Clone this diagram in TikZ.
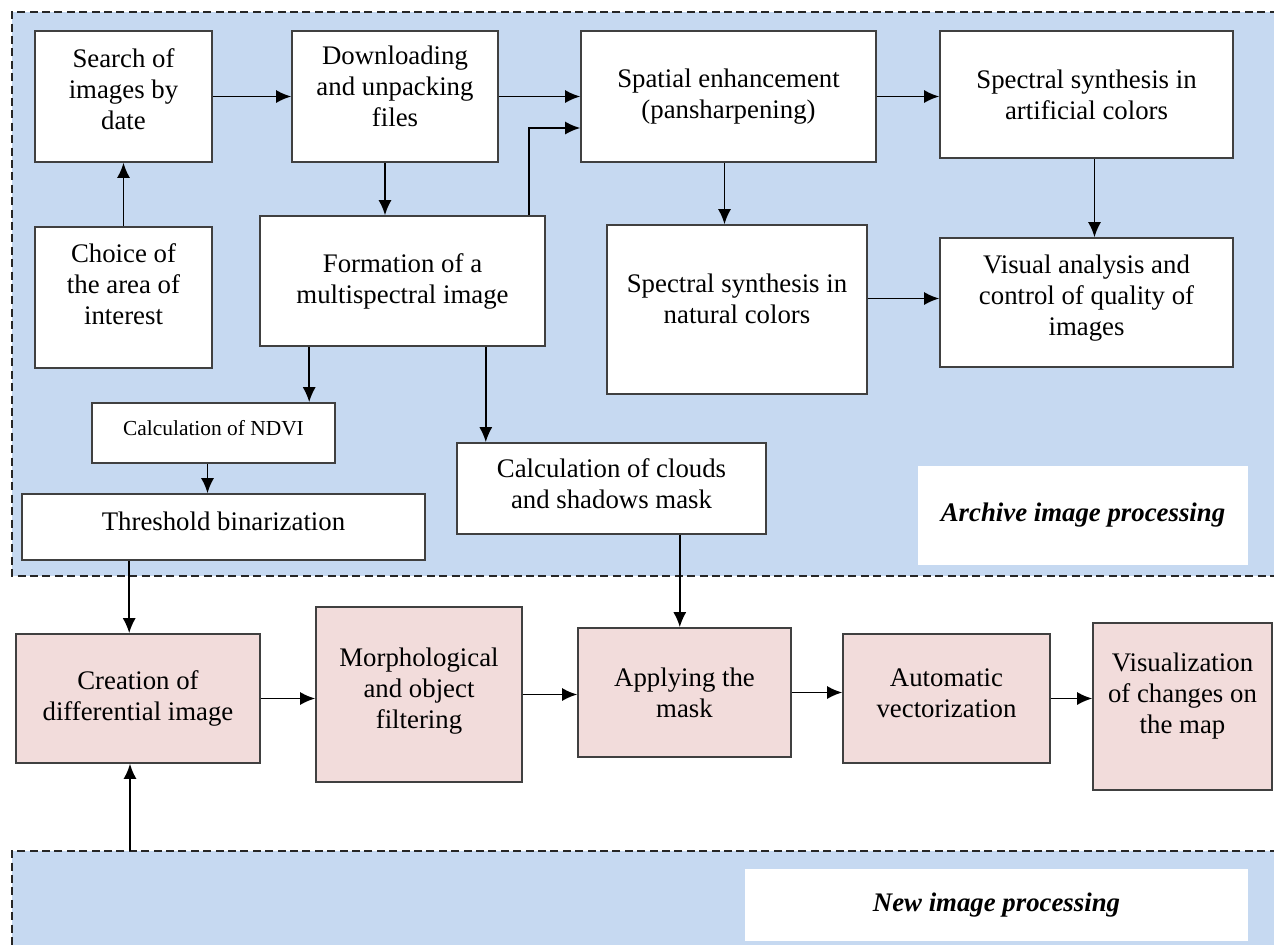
\documentclass[tikz,border=0pt]{standalone}
\usepackage{fontspec}
\setmainfont{Liberation Serif}
\usepackage{tikz}
\usetikzlibrary{arrows.meta}
\definecolor{bluefill}{RGB}{198,217,241}
\definecolor{pinkfill}{RGB}{242,220,219}
\definecolor{boxline}{RGB}{64,64,64}

\begin{document}
\begin{tikzpicture}[x=0.5pt,y=-0.5pt,
    box/.style={draw=boxline,line width=0.8pt,fill=white,align=center,inner sep=2pt,
      font=\fontsize{13.4}{15.5}\selectfont},
    stage/.style={box,fill=pinkfill},
    caption/.style={fill=white,inner sep=0pt,align=center,font=\fontsize{13.4}{15.5}\selectfont\bfseries\itshape},
    region/.style={draw=black!85,line width=0.9pt,dash pattern=on 4pt off 2.2pt},
    arr/.style={line width=0.9pt,-{Latex[length=7.5pt,width=6.5pt]}}]
  \clip (0,0) rectangle (1274,944);
  \fill[bluefill] (12,12) rectangle (1290,576);
  \draw[region] (1290,12) -- (12,12) -- (12,576) -- (1290,576);
  \fill[bluefill] (12,851) rectangle (1290,960);
  \draw[region] (1290,851) -- (12,851) -- (12,960);
  \coordinate (newtop) at (130,851);

  \node[box,minimum width=88.5pt,minimum height=65.5pt] (search) at (123.5,96.5) {Search of\\images by\\date\\[-8.5pt]};
  \node[box,minimum width=103pt,minimum height=65.5pt] (download) at (395,96.5) {Downloading\\and unpacking\\files\\[-5.5pt]};
  \node[box,minimum width=147.5pt,minimum height=65.5pt] (spatial) at (728.5,96.5) {Spatial enhancement\\(pansharpening)};
  \node[box,minimum width=146.5pt,minimum height=63.5pt] (artificial) at (1086.5,94.5) {Spectral synthesis in\\artificial colors};
  \node[box,minimum width=88.5pt,minimum height=70.5pt] (choice) at (123.5,297.5) {Choice of\\the area of\\interest\\[-2.5pt]};
  \node[box,minimum width=142.5pt,minimum height=65pt] (formation) at (402.5,281) {Formation of a\\multispectral image};
  \node[box,minimum width=130pt,minimum height=84.5pt] (natural) at (737,309.5) {Spectral synthesis in\\natural colors\\[-4.5pt]};
  \node[box,minimum width=146.5pt,minimum height=64.5pt] (visual) at (1086.5,302.5) {Visual analysis and\\control of quality of\\images\\[-8.5pt]};
  \node[box,minimum width=121.5pt,minimum height=30pt,font=\fontsize{10.7}{12.5}\selectfont] (ndvi) at (213.5,433) {Calculation of NDVI\\[-7.5pt]};
  \node[box,minimum width=201.5pt,minimum height=33pt] (threshold) at (223.5,527) {Threshold binarization\\[-9.5pt]};
  \node[box,minimum width=154.5pt,minimum height=45.5pt] (clouds) at (611.5,488.5) {Calculation of clouds\\and shadows mask\\[-10.5pt]};
  \node[caption,minimum width=165pt,minimum height=49.5pt] (archive) at (1083,515.5) {Archive image processing};

  \node[stage,minimum width=122pt,minimum height=64.5pt] (creation) at (138,698.5) {Creation of\\differential image};
  \node[stage,minimum width=103pt,minimum height=87.5pt] (morph) at (419,694.5) {Morphological\\and object\\filtering\\[-9.5pt]};
  \node[stage,minimum width=106.5pt,minimum height=64.5pt] (applying) at (684.5,692.5) {Applying the\\mask};
  \node[stage,minimum width=103.5pt,minimum height=64.5pt] (automatic) at (946.5,698.5) {Automatic\\vectorization\\[-10.5pt]};
  \node[stage,minimum width=89.5pt,minimum height=83.5pt] (visualization) at (1182.5,706.5) {Visualization\\of changes on\\the map\\[-2.5pt]};
  \node[caption,minimum width=251.5pt,minimum height=36pt] (newlabel) at (996.5,905) {New image processing\\[-12.5pt]};

  \draw[arr] (search.east) -- (search.east -| download.west);
  \draw[arr] (choice.north) -- (search.south);
  \draw[arr] (download.east) -- (download.east -| spatial.west);
  \draw[arr] ([xshift=-5pt]download.south) -- ([xshift=-5pt]download.south |- formation.north);
  \draw[arr] ([xshift=-8.5pt]formation.north east) |- ([yshift=-15.75pt]spatial.west);
  \draw[arr] (spatial.east) -- (spatial.east -| artificial.west);
  \draw[arr] ([xshift=-2pt]spatial.south) -- ([xshift=-2pt]spatial.south |- natural.north);
  \draw[arr] ([xshift=4pt]artificial.south) -- ([xshift=4pt]visual.north);
  \draw[arr] ([yshift=5.5pt]natural.east) -- ([yshift=5.5pt]natural.east -| visual.west);
  \draw[arr] ([xshift=25pt]formation.south west) -- ([xshift=25pt]formation.south west |- ndvi.north);
  \draw[arr] ([xshift=-30pt]formation.south east) -- ([xshift=-30pt]formation.south east |- clouds.north);
  \draw[arr] ([xshift=-3pt]ndvi.south) -- ([xshift=-3pt]ndvi.south |- threshold.north);
  \draw[arr] ([xshift=54pt]threshold.south west) -- ([xshift=54pt]threshold.south west |- creation.north);
  \draw[arr] ([xshift=-43.5pt]clouds.south east) -- ([xshift=-43.5pt]clouds.south east |- applying.north);
  \draw[arr] (creation.east) -- (creation.east -| morph.west);
  \draw[arr] (morph.east) -- (morph.east -| applying.west);
  \draw[arr] (applying.east) -- (applying.east -| automatic.west);
  \draw[arr] (automatic.east) -- (automatic.east -| visualization.west);
  \draw[arr] (newtop) -- (newtop |- creation.south);
\end{tikzpicture}
\end{document}
